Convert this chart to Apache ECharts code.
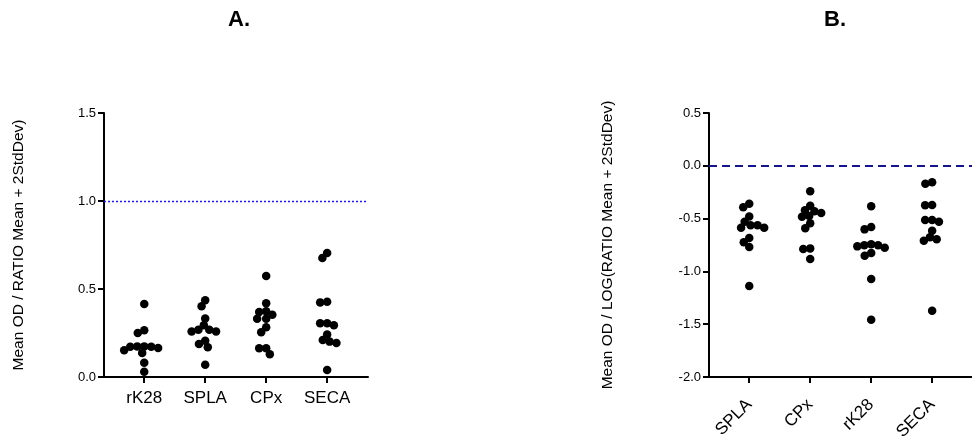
<!DOCTYPE html>
<html>
<head>
<meta charset="utf-8">
<script src="https://cdn.jsdelivr.net/npm/echarts@6/dist/echarts.min.js"></script>
<style>
  html, body { margin: 0; padding: 0; background: #fff; }
  #chart { width: 972px; height: 441px; }
</style>
</head>
<body>
<div id="chart"></div>
<script>
// Panel A: mean OD / ratio threshold, per antigen
const groupsA = ['rK28', 'SPLA', 'CPx', 'SECA'];
const rK28A = [0.415, 0.25, 0.265, 0.165, 0.152, 0.136, 0.172, 0.174, 0.174, 0.172, 0.081, 0.030];
const splaA = [0.436, 0.402, 0.333, 0.294, 0.259, 0.259, 0.269, 0.269, 0.206, 0.188, 0.169, 0.070];
const cpxA  = [0.574, 0.419, 0.373, 0.369, 0.354, 0.331, 0.331, 0.282, 0.254, 0.163, 0.163, 0.129];
const secaA = [0.705, 0.676, 0.428, 0.424, 0.294, 0.305, 0.305, 0.241, 0.210, 0.201, 0.193, 0.040];
const yTicksA = [0.0, 0.5, 1.0, 1.5];
const cutoffA = 1.0;

// Panel B: same measure on a log scale
const groupsB = ['SPLA', 'CPx', 'rK28', 'SECA'];
const splaB = [-0.359, -0.393, -0.479, -0.529, -0.586, -0.586, -0.564, -0.564, -0.684, -0.725, -0.769, -1.138];
const cpxB  = [-0.242, -0.378, -0.422, -0.431, -0.482, -0.447, -0.475, -0.545, -0.592, -0.782, -0.788, -0.883];
const rK28B = [-0.384, -0.602, -0.580, -0.775, -0.826, -0.851, -0.763, -0.744, -0.753, -0.753, -1.072, -1.457];
const secaB = [-0.155, -0.171, -0.371, -0.374, -0.529, -0.513, -0.513, -0.614, -0.677, -0.696, -0.709, -1.372];
const yTicksB = [-2.0, -1.5, -1.0, -0.5, 0.0, 0.5];
const cutoffB = 0.0;

const valuesA = [rK28A, splaA, cpxA, secaA];
const valuesB = [splaB, cpxB, rK28B, secaB];

const FONT = '"Liberation Sans", Arial, Helvetica, sans-serif';
const chart = echarts.init(document.getElementById('chart'), null, { renderer: 'canvas' });

function xAxisFor(gridIndex, names, rotate) {
  const idx = names.map((_, i) => i);
  return {
    gridIndex: gridIndex,
    type: 'value',
    min: -0.66,
    max: 3.67,
    splitLine: { show: false },
    axisLine: { onZero: false, lineStyle: { color: '#000', width: 2 } },
    axisTick: { customValues: idx, length: 6, lineStyle: { color: '#000', width: 2 } },
    axisLabel: {
      customValues: idx,
      formatter: v => names[Math.round(v)],
      color: '#000', fontSize: 17, fontFamily: FONT,
      rotate: rotate, margin: rotate ? 25 : 13
    }
  };
}

function yAxisFor(gridIndex, ticks, name, gap) {
  return {
    gridIndex: gridIndex,
    type: 'value',
    min: ticks[0],
    max: ticks[ticks.length - 1],
    interval: ticks[1] - ticks[0],
    name: name,
    nameLocation: 'middle',
    nameRotate: 90,
    nameGap: gap,
    nameTextStyle: { color: '#000', fontSize: 15.5, fontFamily: FONT },
    splitLine: { show: false },
    axisLine: { onZero: false, lineStyle: { color: '#000', width: 2 } },
    axisTick: { length: 6, lineStyle: { color: '#000', width: 2 } },
    axisLabel: { color: '#000', fontSize: 13, fontFamily: FONT, formatter: v => v.toFixed(1), margin: 8 }
  };
}

const baseOption = {
  animation: false,
  backgroundColor: '#fff',
  title: [
    { text: 'A.', left: 223, top: 4, textStyle: { fontSize: 22, fontWeight: 'bold', color: '#000', fontFamily: FONT } },
    { text: 'B.', left: 819, top: 4, textStyle: { fontSize: 22, fontWeight: 'bold', color: '#000', fontFamily: FONT } }
  ],
  grid: [
    { left: 104, top: 113, width: 264, height: 264, outerBoundsMode: 'none' },
    { left: 709, top: 113, width: 264, height: 264, outerBoundsMode: 'none' }
  ],
  xAxis: [xAxisFor(0, groupsA, 0), xAxisFor(1, groupsB, 45)],
  yAxis: [
    yAxisFor(0, yTicksA, 'Mean OD / RATIO Mean + 2StdDev)', 77),
    yAxisFor(1, yTicksB, 'Mean OD / LOG(RATIO Mean + 2StdDev)', 93)
  ],
  series: []
};
chart.setOption(baseOption);

// Beeswarm: spread points of similar value sideways so the dots do not hide each other.
function swarm(gridIndex, catIndex, values, minDist) {
  const finder = { gridIndex: gridIndex };
  const c0 = chart.convertToPixel(finder, [catIndex, 0]);
  const c1 = chart.convertToPixel(finder, [catIndex + 1, 0]);
  const pxPerUnit = c1[0] - c0[0];
  const order = values.map((v, i) => i).sort((a, b) => values[b] - values[a]);
  const placed = [];
  const out = [];
  order.forEach(i => {
    const py = chart.convertToPixel(finder, [catIndex, values[i]])[1];
    const near = placed.filter(p => Math.abs(p.y - py) < minDist);
    const cands = [0];
    near.forEach(p => {
      const dx = Math.sqrt(minDist * minDist - (p.y - py) * (p.y - py));
      cands.push(p.x + dx, p.x - dx);
    });
    cands.sort((a, b) => Math.abs(a) - Math.abs(b) || a - b);
    let x = 0;
    for (const cx of cands) {
      const ok = near.every(p => (p.x - cx) * (p.x - cx) + (p.y - py) * (p.y - py) >= minDist * minDist - 0.01);
      if (ok) { x = cx; break; }
    }
    placed.push({ x: x, y: py });
    out.push([catIndex + x / pxPerUnit, values[i]]);
  });
  return out;
}

function panelSeries(gridIndex, groups, valueSets, cutoff, lineStyle) {
  return groups.map((g, k) => {
    const s = {
      name: g,
      type: 'scatter',
      xAxisIndex: gridIndex,
      yAxisIndex: gridIndex,
      symbol: 'circle',
      symbolSize: 8.5,
      itemStyle: { color: '#000', opacity: 1 },
      data: swarm(gridIndex, k, valueSets[k], 7)
    };
    if (k === 0) {
      s.markLine = {
        silent: true,
        symbol: 'none',
        label: { show: false },
        lineStyle: lineStyle,
        emphasis: { disabled: true },
        data: [{ yAxis: cutoff }]
      };
    }
    return s;
  });
}

chart.setOption({
  series: [
    ...panelSeries(0, groupsA, valuesA, cutoffA, { color: '#1a1aff', width: 1.4, type: [2, 2], opacity: 1 }),
    ...panelSeries(1, groupsB, valuesB, cutoffB, { color: '#14148c', width: 2, type: [8, 5], opacity: 1 })
  ]
});
</script>
</body>
</html>
